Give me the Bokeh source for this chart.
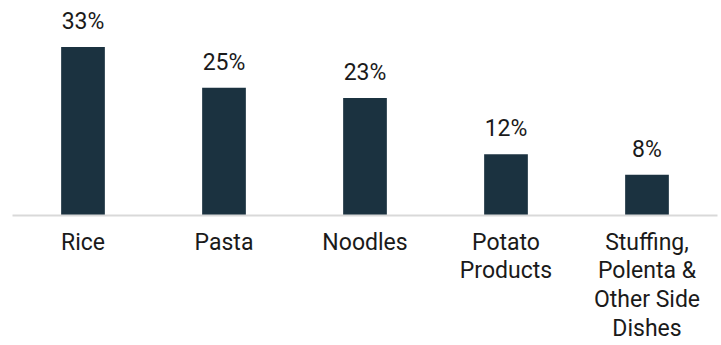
from bokeh.plotting import figure
from bokeh.models import ColumnDataSource
from bokeh.core.properties import value
from bokeh.embed import file_html
from bokeh.resources import INLINE

categories = ["Rice", "Pasta", "Noodles", "Potato\nProducts", "Stuffing,\nPolenta &\nOther Side\nDishes"]
shares = [33, 25, 23, 12, 8]
share_labels = ["33%", "25%", "23%", "12%", "8%"]

BAR = "#1b3240"
TXT = "#1a1a1a"
FONT = "Roboto"

src = ColumnDataSource(dict(cat=categories, val=shares, lab=share_labels))

p = figure(x_range=categories, y_range=(0, 42.1), width=721, height=345,
           output_backend="svg", toolbar_location=None,
           min_border_left=12, min_border_right=4, min_border_top=0, min_border_bottom=0)

p.vbar(x="cat", top="val", width=0.31, source=src, color=BAR, line_color=None)
p.text(x="cat", y="val", text="lab", source=src, text_align="center",
       text_baseline="bottom", y_offset=-12, text_font=value(FONT),
       text_font_size="23px", text_color=TXT)

p.outline_line_color = None
p.grid.visible = False
p.yaxis.visible = False
ax = p.xaxis[0]
ax.axis_line_color = "#d9d9d9"
ax.axis_line_width = 2
ax.major_tick_line_color = None
ax.minor_tick_line_color = None
ax.major_tick_out = 0
ax.major_tick_in = 0
ax.major_label_text_font = FONT
ax.major_label_text_font_size = "23px"
ax.major_label_text_color = TXT
ax.major_label_text_line_height = 1.07
ax.major_label_standoff = 13

open("out.html", "w").write(file_html(p, INLINE))
